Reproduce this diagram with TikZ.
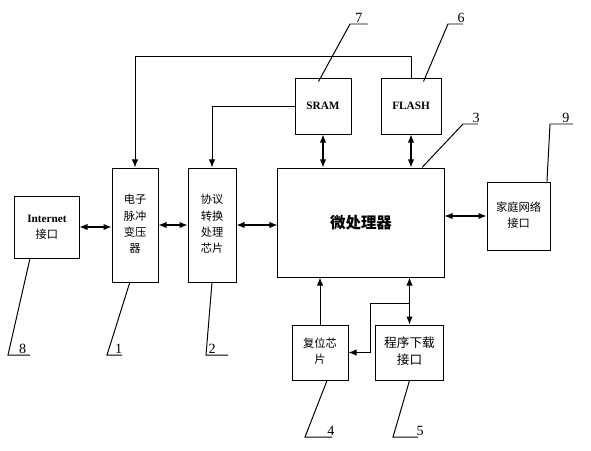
\documentclass[tikz,border=0pt]{standalone}
\usepackage{fontspec}
\setmainfont{Liberation Serif}
\newfontfamily\cjk{Noto Sans CJK SC}
\usepackage{tikz}
\usetikzlibrary{arrows.meta,positioning}

\begin{document}
\begin{tikzpicture}[
    x=0.025cm,
    y=-0.025cm,
    >={Latex[length=2mm,width=1.6mm]},
    line width=0.7pt,
    font=\cjk\fontsize{8}{11.5}\selectfont,
    block/.style={
		rectangle,
		draw=black,
		text centered,
		inner sep=0pt,
		fill=white
	},
	latin/.style={
		font=\rmfamily\bfseries\fontsize{8}{11.5}\selectfont
	},
	num/.style={
		anchor=south west,
		inner sep=0.5pt,
		font=\rmfamily\fontsize{10}{10}\selectfont
	},
	link/.style={
		<->,
		line width=0.8pt
	},
	feed/.style={
		->,
		line width=0.7pt
	}
  ]

\useasboundingbox (0,0) rectangle (591,450);

% // boxes
\node [block, minimum width=1.6cm, minimum height=1.55cm] (inet) at (47,227)
 {\begin{tabular}{c}{\rmfamily\bfseries Internet}\\接口\end{tabular}};
\node [block, minimum width=1.15cm, minimum height=2.85cm] (trans) at (135,225)
 {\begin{tabular}{c}电子\\脉冲\\变压\\器\end{tabular}};
\node [block, minimum width=1.2cm, minimum height=2.85cm] (proto) at (212,225)
 {\begin{tabular}{c}协议\\转换\\处理\\芯片\end{tabular}};
\node [block, minimum width=4.15cm, minimum height=2.725cm,
 font=\cjk\bfseries\fontsize{11}{13}\selectfont] (mcu) at (361,222.5) {微处理器};
\node [block, latin, minimum width=1.4cm, minimum height=1.4cm] (sram) at (323,106) {SRAM};
\node [block, latin, minimum width=1.5cm, minimum height=1.4cm] (flash) at (411,106) {FLASH};
\node [block, minimum width=1.575cm, minimum height=1.7cm] (home) at (518.5,216)
 {\begin{tabular}{c}家庭网络\\接口\end{tabular}};
\node [block, minimum width=1.4cm, minimum height=1.375cm] (reset) at (320,352.5)
 {\begin{tabular}{c}复位芯\\片\end{tabular}};
\node [block, minimum width=1.625cm, minimum height=1.375cm,
 font=\cjk\fontsize{9}{12.5}\selectfont] (prog) at (409.5,352.5)
 {\begin{tabular}{c}程序下载\\接口\end{tabular}};

% // links
\draw [link] (inet.east) -- (inet.east -| trans.west);
\draw [link] (trans.east) -- (trans.east -| proto.west);
\draw [link] (proto.east) -- (proto.east -| mcu.west);
\draw [link] (home.west) -- (home.west -| mcu.east);
\draw [link] (sram.south) -- (sram.south |- mcu.north);
\draw [link] (flash.south) -- (flash.south |- mcu.north);
\draw [link] (prog.north) -- (prog.north |- mcu.south);
\draw [feed] (reset.north) -- (reset.north |- mcu.south);
\draw [feed] (flash.north) -- ++(0,-21) -| (trans.north);
\draw [feed] (sram.west) -| (proto.north);
\path (prog.north) ++(0,-21) coordinate (br);
\draw [feed] (br) -- ++(-39,0) |- (reset.east);

% // part numbers
\node [num, xshift=3] (n7) at (350,24) {7};
\node [num, xshift=6] (n6) at (448,24) {6};
\node [num, xshift=6] (n3) at (463,124) {3};
\node [num, xshift=8] (n9) at (550,124) {9};
\node [num, xshift=7] (n8) at (8,355) {8};
\node [num, xshift=5] (n1) at (107,355) {1};
\node [num, xshift=1] (n2) at (206,355) {2};
\node [num, xshift=15] (n4) at (305,437) {4};
\node [num, xshift=16] (n5) at (393,437) {5};

\draw ([shift={(24,4)}]sram.north west) -- ([xshift=-3]n7.south west) -- ++(18,0);
\draw ([shift={(43,4)}]flash.north west) -- ([xshift=-6]n6.south west) -- ++(15,0);
\draw ([xshift=-16]mcu.north east) -- ([xshift=-6]n3.south west) -- ++(15,0);
\draw ([xshift=43]home.north west) -- ([xshift=-8]n9.south west) -- ++(23,0);
\draw ([xshift=11]inet.south west) -- ([xshift=-7]n8.south west) -- ++(22,0);
\draw ([xshift=13]trans.south west) -- ([xshift=-5]n1.south west) -- ++(15,0);
\draw (proto.south) -- ([xshift=-1]n2.south west) -- ++(22,0);
\draw ([xshift=5]reset.south) -- ([xshift=-15]n4.south west) -- ++(27,0);
\draw (prog.south) -- ([xshift=-16]n5.south west) -- ++(25,0);

\end{tikzpicture}
\end{document}
